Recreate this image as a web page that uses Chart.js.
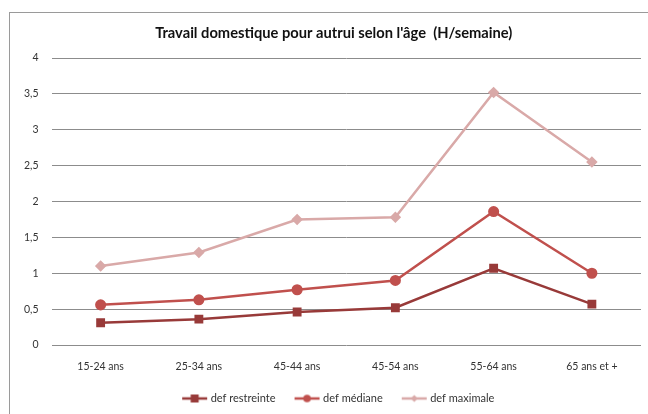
<!DOCTYPE html>
<html>
<head>
<meta charset="utf-8">
<script src="https://cdn.jsdelivr.net/npm/chart.js@4"></script>
<style>
  html, body { margin: 0; padding: 0; background: #fff; }
  #wrap { position: relative; width: 648px; height: 414px; overflow: hidden; }
  #frame { position: absolute; left: 9px; top: 12px; width: 700px; height: 500px;
           border-left: 1px solid #9a9a9a; border-top: 1px solid #9a9a9a; }
  canvas { position: absolute; left: 0; top: 0; }
</style>
</head>
<body>
<div id="wrap">
  <div id="frame"></div>
  <canvas id="myChart" width="648" height="414"></canvas>
</div>
<script>
var ages = ['15-24 ans', '25-34 ans', '45-44 ans', '45-54 ans', '55-64 ans', '65 ans et +'];
var defRestreinte = [0.31, 0.36, 0.46, 0.52, 1.07, 0.57];
var defMediane = [0.56, 0.63, 0.77, 0.90, 1.86, 1.00];
var defMaximale = [1.10, 1.29, 1.75, 1.78, 3.52, 2.55];

var fontFam = "Lato, 'Open Sans', sans-serif";

// small picture of line + marker for the legend (left part left blank as spacing)
function legendIcon(color, style, size) {
  var c = document.createElement('canvas');
  c.width = 38; c.height = 12;
  var g = c.getContext('2d');
  g.strokeStyle = color; g.fillStyle = color; g.lineWidth = 2.5;
  g.beginPath(); g.moveTo(12, 6); g.lineTo(37, 6); g.stroke();
  g.beginPath();
  var cx = 24.5;
  if (style == 'rect') {
    g.rect(cx - size, 6 - size, size * 2, size * 2);
  } else if (style == 'circle') {
    g.arc(cx, 6, size, 0, Math.PI * 2);
  } else {
    g.moveTo(cx, 6 - size); g.lineTo(cx + size, 6); g.lineTo(cx, 6 + size); g.lineTo(cx - size, 6);
    g.closePath();
  }
  g.fill();
  return c;
}

var ctx = document.getElementById("myChart");
var myChart = new Chart(ctx, {
  type: 'line',
  data: {
    labels: ages,
    datasets: [{
      label: 'def restreinte',
      data: defRestreinte,
      borderColor: '#983a39',
      backgroundColor: '#983a39',
      borderWidth: 2.5,
      pointStyle: 'rect',
      pointRadius: 4.5,
      icon: legendIcon('#983a39', 'rect', 4)
    }, {
      label: 'def médiane',
      data: defMediane,
      borderColor: '#c0504d',
      backgroundColor: '#c0504d',
      borderWidth: 2.5,
      pointStyle: 'circle',
      pointRadius: 4.3,
      icon: legendIcon('#c0504d', 'circle', 3.8)
    }, {
      label: 'def maximale',
      data: defMaximale,
      borderColor: '#d9a9a8',
      backgroundColor: '#d9a9a8',
      borderWidth: 2.5,
      pointStyle: 'rectRot',
      pointRadius: 4,
      icon: legendIcon('#d9a9a8', 'diamond', 3.5)
    }]
  },
  options: {
    responsive: false,
    animation: false,
    layout: { padding: { left: 22, right: 2.5, top: 0, bottom: 0 } },
    scales: {
      x: {
        offset: true,
        grid: { display: false, drawTicks: false },
        border: { display: false },
        ticks: { color: '#333', padding: 15, maxRotation: 0, font: { family: fontFam, size: 10.5 } },
        afterFit: function(s) { s.height = 38; }
      },
      y: {
        min: 0, max: 4,
        grid: { color: '#8c8c8c', drawTicks: false },
        border: { display: false },
        ticks: {
          stepSize: 0.5, color: '#333', padding: 13,
          font: { family: fontFam, size: 10.5 },
          callback: function(v) { return String(v).replace('.', ','); }
        },
        afterFit: function(s) { s.width = 29.5; }
      }
    },
    plugins: {
      title: {
        display: true,
        text: "Travail domestique pour autrui selon l'âge  (H/semaine)",
        color: '#111',
        font: { family: fontFam, size: 14.7, weight: 'bold', lineHeight: 1.2 },
        padding: { top: 24, bottom: 16.4 }
      },
      legend: {
        position: 'bottom',
        onClick: null,
        labels: {
          color: '#333',
          font: { family: fontFam, size: 11 },
          padding: 10,
          usePointStyle: true,
          pointStyleWidth: 32,
          generateLabels: function(chart) {
            return chart.data.datasets.map(function(d, i) {
              return { text: d.label, pointStyle: d.icon, fillStyle: d.borderColor,
                       strokeStyle: d.borderColor, lineWidth: 0, hidden: false,
                       datasetIndex: i, fontColor: '#333' };
            });
          }
        }
      },
      tooltip: { enabled: false }
    }
  }
});
</script>
</body>
</html>
